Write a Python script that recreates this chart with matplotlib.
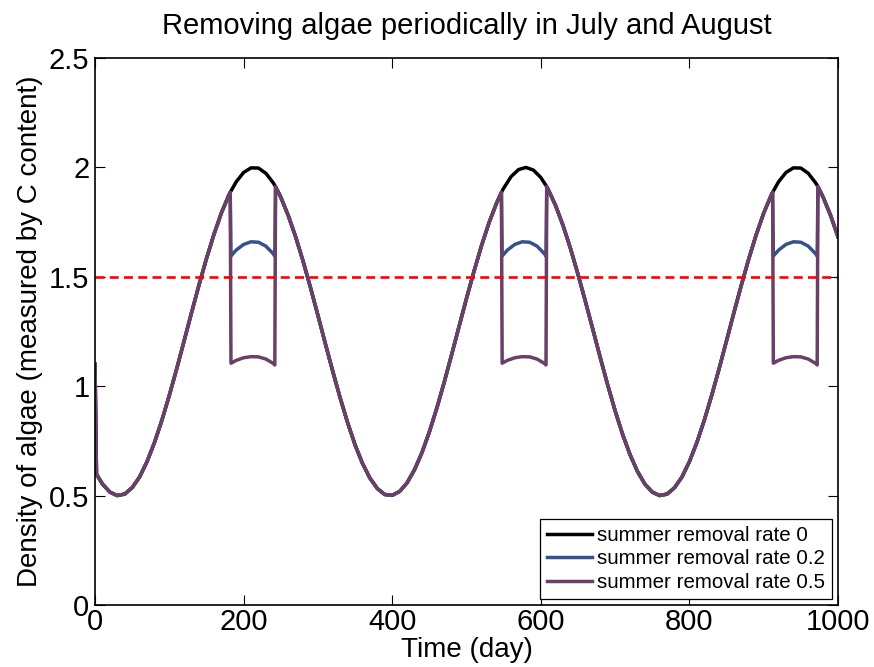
import numpy as np
import matplotlib
matplotlib.use("Agg")
import matplotlib.pyplot as plt

plt.rcParams['font.family'] = ['Liberation Sans', 'DejaVu Sans']

# algae density (C content) over time, no removal
days = [0, 2, 10, 20, 30, 40, 50, 60, 70, 80, 90, 100, 110, 120, 130, 140, 150, 160, 170, 180,
        182, 190, 200, 210, 220, 230, 240, 243, 250, 260, 270, 280, 290, 300, 310, 320, 330,
        340, 350, 360, 370, 380, 390, 400, 410, 420, 430, 440, 450, 460, 470, 480, 490, 500,
        510, 520, 530, 540, 547, 550, 560, 570, 580, 590, 600, 608, 610, 620, 630, 640, 650,
        660, 670, 680, 690, 700, 710, 720, 730, 740, 750, 760, 770, 780, 790, 800, 810, 820,
        830, 840, 850, 860, 870, 880, 890, 900, 910, 912, 920, 930, 940, 950, 960, 970, 973,
        980, 990, 1000]
algae_no_removal = [1.100, 0.598, 0.553, 0.516, 0.500, 0.507, 0.536, 0.585, 0.655, 0.742, 0.844,
                    0.958, 1.080, 1.208, 1.337, 1.463, 1.583, 1.693, 1.791, 1.872,
                    1.886, 1.934, 1.977, 1.998, 1.997, 1.973, 1.929, 1.912, 1.864, 1.781, 1.683,
                    1.572, 1.451, 1.324, 1.195, 1.068, 0.946, 0.833, 0.732, 0.647, 0.580, 0.532,
                    0.505, 0.501, 0.519, 0.558, 0.618, 0.696, 0.791, 0.899, 1.018, 1.144, 1.273,
                    1.401, 1.524, 1.640, 1.744, 1.833, 1.886, 1.905, 1.958, 1.990, 2.000, 1.988,
                    1.954, 1.912, 1.899, 1.825, 1.734, 1.629, 1.512, 1.388, 1.260, 1.131, 1.006,
                    0.888, 0.781, 0.688, 0.611, 0.553, 0.516, 0.500, 0.507, 0.536, 0.585, 0.655,
                    0.742, 0.844, 0.958, 1.080, 1.208, 1.337, 1.463, 1.583, 1.693, 1.791, 1.872,
                    1.886, 1.934, 1.977, 1.998, 1.997, 1.973, 1.929, 1.912, 1.864, 1.781, 1.683]

# removal periods: July 1 - August 31 of each year
window_starts = [182, 547, 912]
window_length = 61
dip_offsets = [1, 8, 18, 28, 38, 48, 58, 60]
dip_rate_02 = [1.595, 1.622, 1.648, 1.660, 1.658, 1.640, 1.605, 1.594]
dip_rate_05 = [1.105, 1.118, 1.130, 1.135, 1.134, 1.124, 1.104, 1.097]

threshold = 1.5
labels = ['summer removal rate 0', 'summer removal rate 0.2', 'summer removal rate 0.5']
colors = ['#000000', '#35528a', '#6a4166']


def with_removal(dip_values):
    xs, ys = [], []
    for d, v in zip(days, algae_no_removal):
        if any(s < d < s + window_length for s in window_starts):
            continue
        xs.append(d)
        ys.append(v)
    for s in window_starts:
        for off, v in zip(dip_offsets, dip_values):
            xs.append(s + off)
            ys.append(v)
    order = np.argsort(xs)
    return np.array(xs)[order], np.array(ys)[order]


series = [(np.array(days), np.array(algae_no_removal)),
          with_removal(dip_rate_02),
          with_removal(dip_rate_05)]

fig = plt.figure(figsize=(8.74, 6.67), dpi=100)
ax = fig.add_axes([0.1087, 0.093, 0.8501, 0.820])

for (x, y), lab, c in zip(series, labels, colors):
    ax.plot(x, y, color=c, lw=2.5, label=lab, solid_joinstyle='round')

ax.plot([0, 1000], [threshold, threshold], color='red', lw=1.9, dashes=(3.4, 2.0))

ax.set_xlim(0, 1000)
ax.set_ylim(0, 2.5)
ax.set_xticks([0, 200, 400, 600, 800, 1000])
ax.set_yticks([0, 0.5, 1, 1.5, 2, 2.5])
ax.set_yticklabels(['0', '0.5', '1', '1.5', '2', '2.5'])
ax.tick_params(direction='in', length=7, width=0.8, top=True, right=True,
               labelsize=21, pad=4)
ax.tick_params(axis='x', pad=2)
for sp in ax.spines.values():
    sp.set_linewidth(1.2)

ax.set_title('Removing algae periodically in July and August', fontsize=21, pad=17)
ax.set_xlabel('Time (day)', fontsize=20, labelpad=1)
ax.set_ylabel('Density of algae (measured by C content)', fontsize=20, labelpad=4)

leg = ax.legend(loc='lower right', fontsize=14.8, fancybox=False, framealpha=1,
                edgecolor='black', borderaxespad=0.3, handlelength=2.2,
                handletextpad=0.25, labelspacing=0.22, borderpad=0.33)
leg.get_frame().set_linewidth(0.9)

fig.savefig('out.png', dpi=100)
